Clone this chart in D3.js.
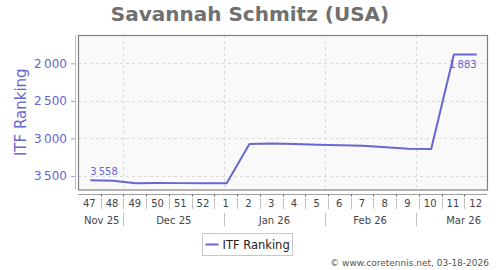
<!DOCTYPE html>
<html>
<head>
<meta charset="utf-8">
<script src="https://cdn.jsdelivr.net/npm/d3@7"></script>
<style>
  body { margin: 0; background: #fff; }
  svg { display: block; font-family: "DejaVu Sans", Verdana, sans-serif; }
</style>
</head>
<body>
<svg id="chart"></svg>
<script>
// weekly ITF ranking values (week 47 of 2025 -> week 12 of 2026)
var weeks = ["47","48","49","50","51","52","1","2","3","4","5","6","7","8","9","10","11","12"];
var ranking = [3558,3565,3600,3595,3597,3600,3600,3075,3068,3075,3085,3092,3100,3120,3138,3142,1883,1883];
var months = ["Nov 25","Dec 25","Jan 26","Feb 26","Mar 26"];
var monthStarts = ["2025-11-01","2025-12-01","2026-01-01","2026-02-01","2026-03-01","2026-04-01"];
var yTicks = [2000,2500,3000,3500];
var seriesName = "ITF Ranking";
var title = "Savannah Schmitz (USA)";
var credit = "\u00a9 www.coretennis.net, 03-18-2026";

var screen = {width:500, height:270};
var plot = {left:78, right:487, top:35, bottom:189.5};
var lineColor = "#6767d3";

var svg = d3.select("#chart")
    .attr("width", screen.width)
    .attr("height", screen.height);

var fmt = d3.formatLocale({decimal:".", thousands:"\u2009", grouping:[3], currency:["",""]}).format(",d");

var xScale = d3.scaleBand()
    .domain(weeks)
    .range([plot.left, plot.right]);
// time scale spanning the same weeks, used for month boundaries
var parse = d3.timeParse("%Y-%m-%d");
var tScale = d3.scaleTime()
    .domain([parse("2025-11-17"), parse("2026-03-23")])
    .range([plot.left, plot.right]);
var yScale = d3.scaleLinear()
    .domain([1622, 3682])
    .range([plot.top, plot.bottom]);

// title
svg.append("text")
    .text(title)
    .attr("x", 250)
    .attr("y", 21)
    .attr("text-anchor", "middle")
    .attr("font-size", 20)
    .attr("font-weight", "bold")
    .attr("fill", "#707070");

// plot area
svg.append("rect")
    .attr("x", plot.left)
    .attr("y", plot.top)
    .attr("width", plot.right - plot.left)
    .attr("height", plot.bottom - plot.top)
    .attr("fill", "#f9f9f9")
    .attr("stroke", "none");

var grid = svg.append("g")
    .attr("stroke", "#d8d8d8")
    .attr("stroke-dasharray", "3,3")
    .attr("shape-rendering", "crispEdges");
grid.selectAll(".hg")
    .data(yTicks)
    .enter()
    .append("line")
    .attr("x1", plot.left)
    .attr("x2", plot.right)
    .attr("y1", function(d){return Math.round(yScale(d)) + 0.5})
    .attr("y2", function(d){return Math.round(yScale(d)) + 0.5});

var monthDates = monthStarts.map(parse);
var inner = monthDates.filter(function(d){return tScale(d) > plot.left && tScale(d) < plot.right});
grid.selectAll(".vg")
    .data(inner)
    .enter()
    .append("line")
    .attr("x1", function(d){return Math.round(tScale(d)) + 0.5})
    .attr("x2", function(d){return Math.round(tScale(d)) + 0.5})
    .attr("y1", plot.top)
    .attr("y2", plot.bottom);

svg.append("rect")
    .attr("x", plot.left + 0.5)
    .attr("y", plot.top + 0.5)
    .attr("width", plot.right - plot.left)
    .attr("height", plot.bottom - plot.top)
    .attr("fill", "none")
    .attr("stroke", "#808080")
    .attr("stroke-width", 1.2);

// y axis
var yAxis = d3.axisLeft(yScale)
    .tickValues(yTicks)
    .tickSize(4)
    .tickFormat(fmt);
var yg = svg.append("g")
    .attr("transform", "translate(75,0)")
    .call(yAxis);
yg.select(".domain")
    .attr("d", "M0.5," + plot.top + "V" + plot.bottom)
    .attr("stroke", "#b8b8e6");
yg.selectAll(".tick line").attr("stroke", "#9898d8");
yg.selectAll(".tick text")
    .attr("fill", "#6666cc")
    .attr("font-size", 12)
    .attr("font-family", "DejaVu Sans, sans-serif")
    .attr("x", -8);

svg.append("g")
    .attr("transform", "translate(26," + ((plot.top + plot.bottom) / 2) + ")")
    .append("text")
    .text(seriesName)
    .attr("transform", "rotate(-90)")
    .attr("text-anchor", "middle")
    .attr("font-size", 15)
    .attr("fill", "#6666cc");

// x axis: weeks row
var axisY = 194.5;
svg.append("line")
    .attr("x1", plot.left)
    .attr("x2", plot.right)
    .attr("y1", axisY)
    .attr("y2", axisY)
    .attr("stroke", "#a0a0a0");

var bounds = weeks.slice(1).map(function(w){return Math.round(xScale(w)) + 0.5});
svg.append("g")
    .selectAll("line")
    .data(bounds)
    .enter()
    .append("line")
    .attr("x1", function(d){return d})
    .attr("x2", function(d){return d})
    .attr("y1", axisY)
    .attr("y2", axisY + 2)
    .attr("stroke", "#666");
svg.append("g")
    .selectAll("line")
    .data(bounds)
    .enter()
    .append("line")
    .attr("x1", function(d){return d})
    .attr("x2", function(d){return d})
    .attr("y1", 198)
    .attr("y2", 209)
    .attr("stroke", "#c0c0c0");

svg.append("g")
    .selectAll("text")
    .data(weeks)
    .enter()
    .append("text")
    .text(function(d){return d})
    .attr("x", function(d){return xScale(d) + xScale.bandwidth() / 2})
    .attr("y", 207)
    .attr("text-anchor", "middle")
    .attr("font-size", 10)
    .attr("fill", "#444");

// months row
svg.append("g")
    .selectAll("line")
    .data(inner)
    .enter()
    .append("line")
    .attr("x1", function(d){return Math.round(tScale(d)) + 0.5})
    .attr("x2", function(d){return Math.round(tScale(d)) + 0.5})
    .attr("y1", 213)
    .attr("y2", 226)
    .attr("stroke", "#c0c0c0");

var monthLabels = svg.append("g")
    .selectAll("text")
    .data(months)
    .enter()
    .append("text")
    .text(function(d){return d})
    .attr("y", 224)
    .attr("text-anchor", "middle")
    .attr("font-size", 10)
    .attr("fill", "#444");
monthLabels.each(function(d, i){
    var w = this.getComputedTextLength();
    var mid = tScale(new Date((monthDates[i].getTime() + monthDates[i+1].getTime()) / 2));
    mid = Math.max(plot.left + 6 + w / 2, Math.min(plot.right - 6 - w / 2, mid));
    d3.select(this).attr("x", mid);
});

// series line
var lineGenerator = d3.line()
    .x(function(d, i){return xScale(weeks[i]) + xScale.bandwidth() / 2 + 1})
    .y(function(d){return yScale(d)});
svg.append("path")
    .datum(ranking)
    .attr("d", lineGenerator)
    .attr("fill", "none")
    .attr("stroke", lineColor)
    .attr("stroke-width", 2)
    .attr("stroke-linejoin", "round");

// value labels at first and last points
var n = ranking.length;
svg.append("text")
    .text(fmt(ranking[0]))
    .attr("x", xScale(weeks[0]) + xScale.bandwidth() / 2 + 1)
    .attr("y", yScale(ranking[0]) - 5)
    .attr("font-size", 10)
    .attr("fill", lineColor);
svg.append("text")
    .text(fmt(ranking[n-1]))
    .attr("x", xScale(weeks[n-1]) + xScale.bandwidth() / 2 + 1)
    .attr("y", yScale(ranking[n-1]) + 13)
    .attr("text-anchor", "end")
    .attr("font-size", 10)
    .attr("fill", lineColor);

// legend
var legend = svg.append("g").attr("transform", "translate(202.5,233.5)");
legend.append("rect")
    .attr("width", 90)
    .attr("height", 22)
    .attr("fill", "#fff")
    .attr("stroke", "#c8c8c8");
legend.append("line")
    .attr("x1", 3)
    .attr("x2", 16)
    .attr("y1", 11)
    .attr("y2", 11)
    .attr("stroke", lineColor)
    .attr("stroke-width", 2);
legend.append("text")
    .text(seriesName)
    .attr("x", 20)
    .attr("y", 15.5)
    .attr("font-size", 11.5)
    .attr("fill", "#222");

// credit
svg.append("text")
    .text(credit)
    .attr("x", 489)
    .attr("y", 266)
    .attr("text-anchor", "end")
    .attr("font-size", 9)
    .attr("fill", "#555");
</script>
</body>
</html>
